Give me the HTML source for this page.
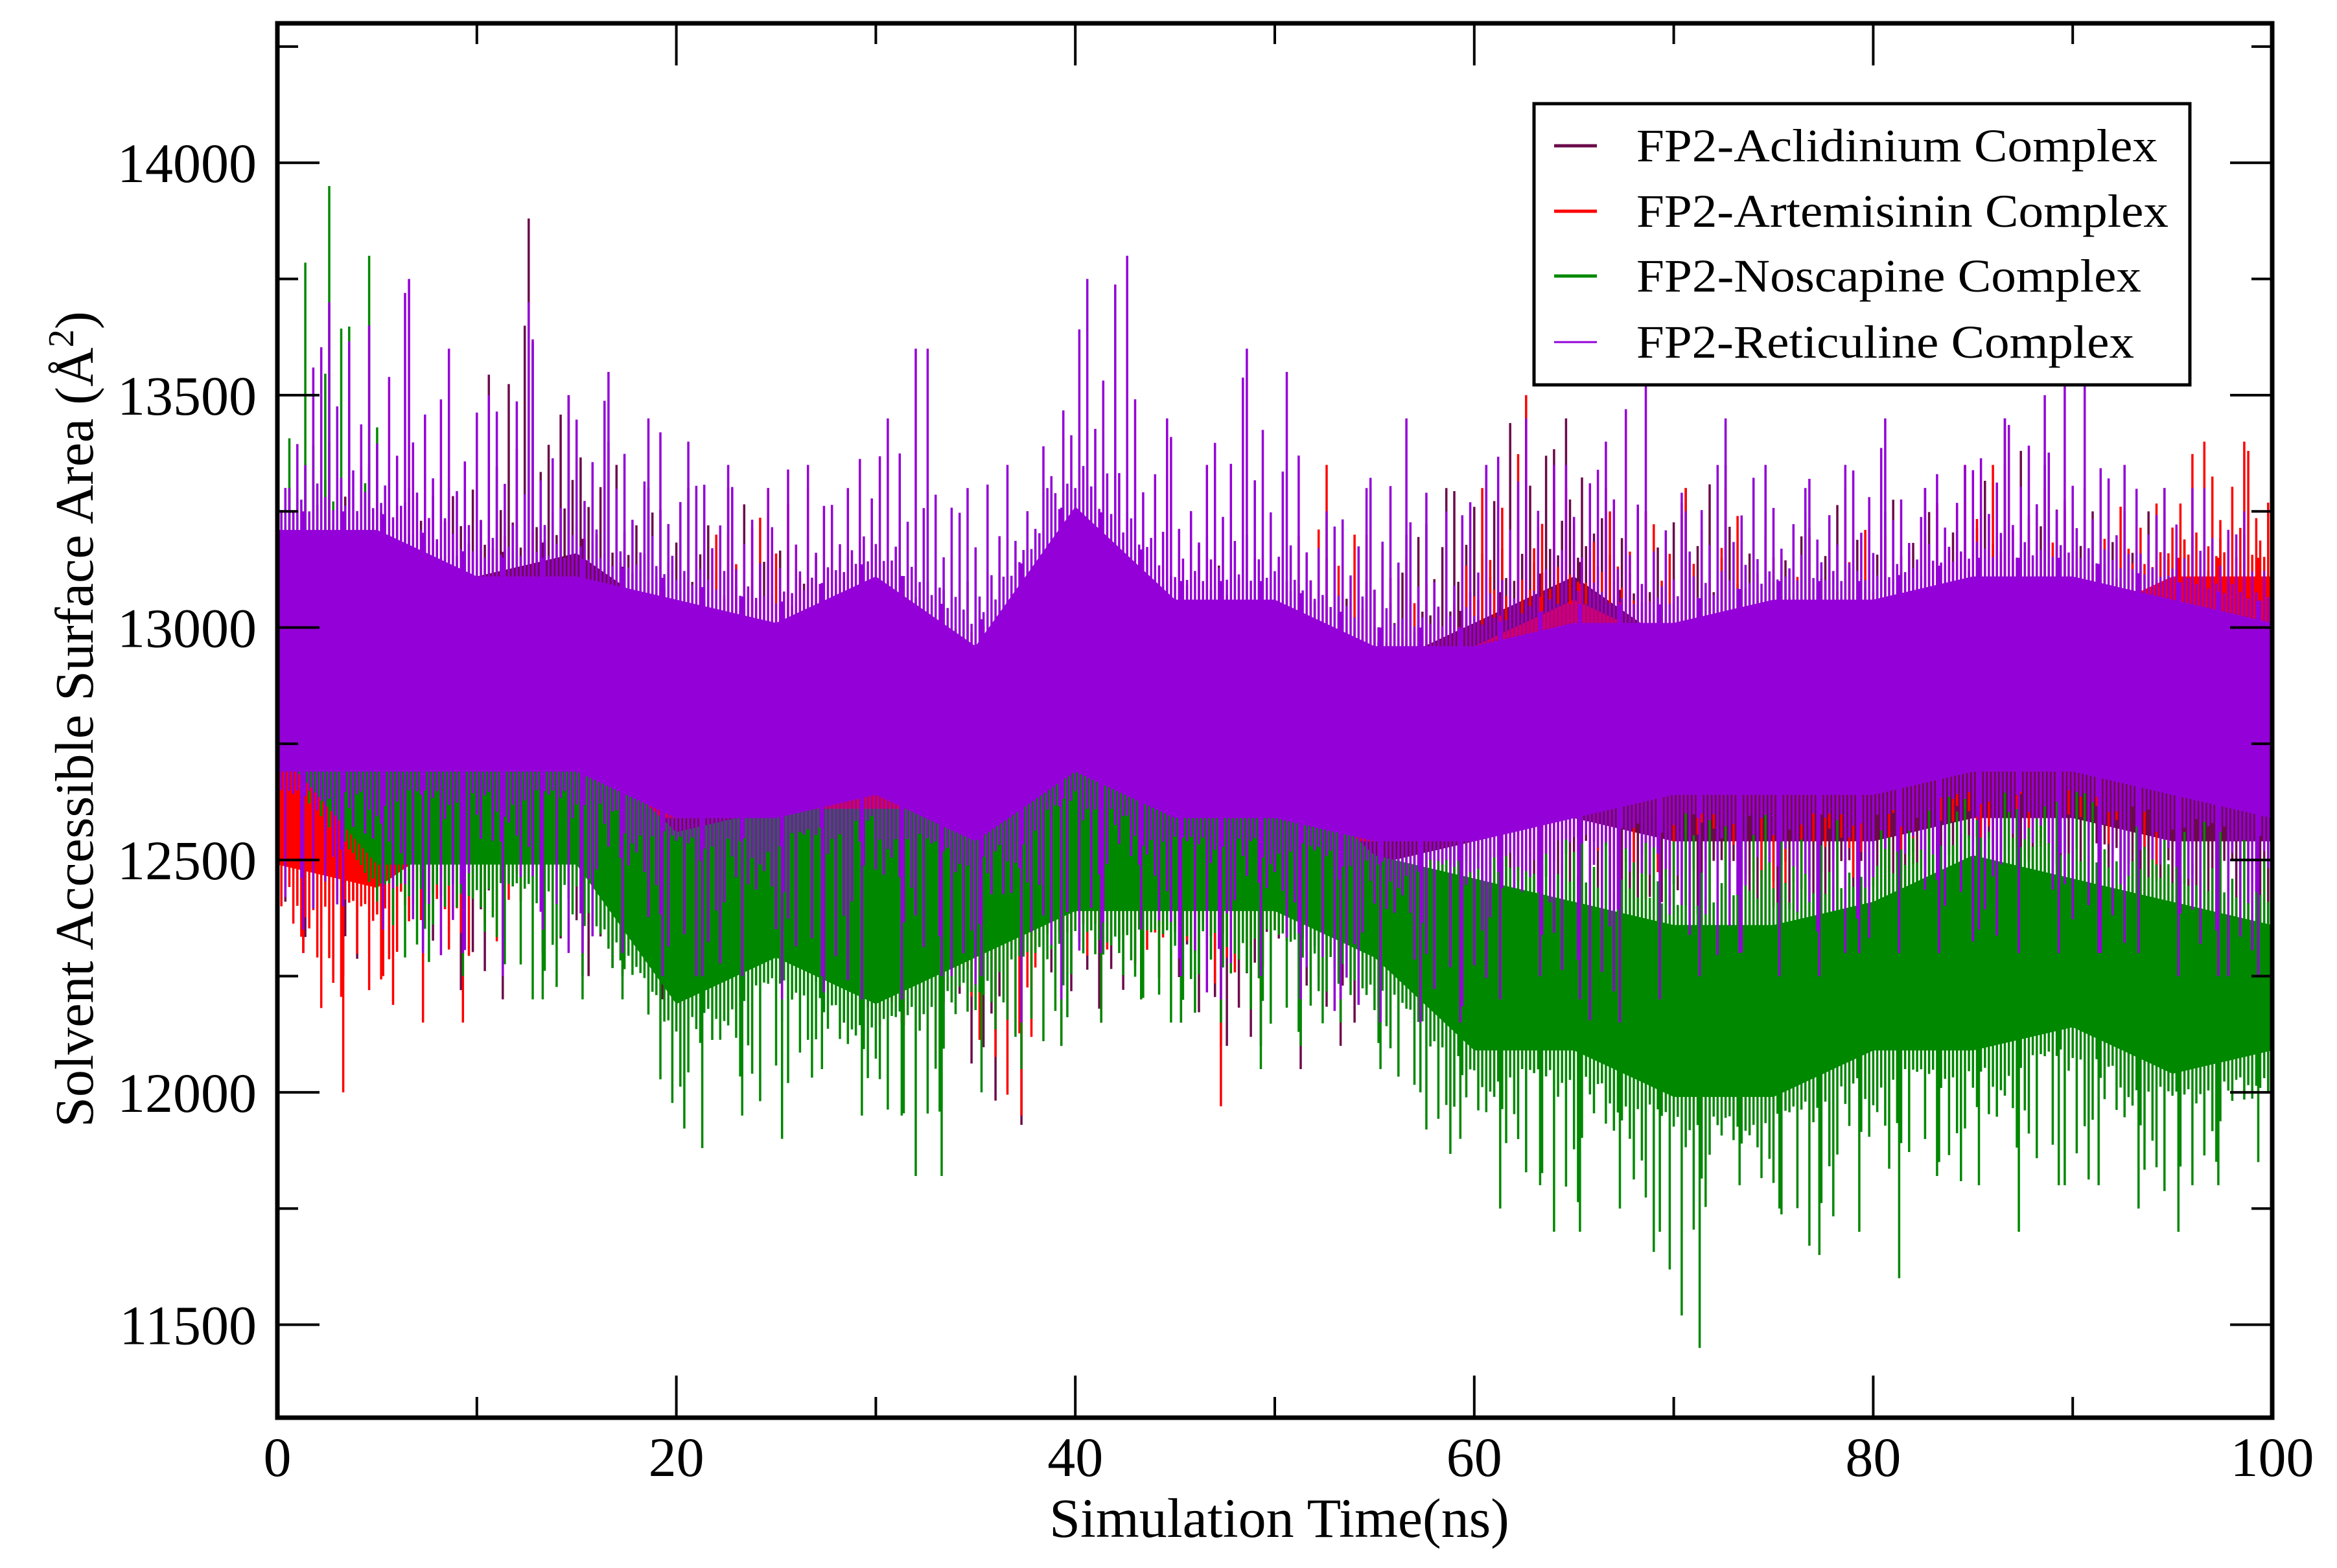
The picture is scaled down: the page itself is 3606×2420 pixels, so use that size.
<!DOCTYPE html>
<html><head><meta charset="utf-8"><style>
html,body{margin:0;padding:0;background:#fff;}
svg{display:block;}
text{font-family:"Liberation Serif",serif;fill:#000;}
</style></head><body>
<svg id="chart" width="3606" height="2420" viewBox="0 0 3606 2420" xmlns="http://www.w3.org/2000/svg">
<defs><clipPath id="pc"><rect x="428" y="36" width="3078" height="2152"/></clipPath></defs>
<rect x="0" y="0" width="3606" height="2420" fill="#fff"/>
<g id="series" clip-path="url(#pc)"></g>
<g id="axes"></g>
<text x="1974" y="2372" font-size="86" text-anchor="middle">Simulation Time(ns)</text>
<text transform="translate(143,1110) rotate(-90)" font-size="84" text-anchor="middle">Solvent Accessible Surface Area (Å<tspan dy="-30" font-size="56">2</tspan><tspan dy="30">)</tspan></text>
<g id="legend"></g>
</svg>
<script>
const tKnots5 = [0,5,10,15,20,25,30,35,40,45,50,55,60,65,70,75,80,85,90,95,100];
const seriesNames = ["FP2-Aclidinium Complex","FP2-Artemisinin Complex","FP2-Noscapine Complex","FP2-Reticuline Complex"];
const seriesColors = ["#6b0a4a","#ff0000","#008800","#9400d8"];
const xTicks = [0,20,40,60,80,100];
const yTicks = [11500,12000,12500,13000,13500,14000];

// Aclidinium
const aclPeaks = [13300,13400,13350,13300,13300,13400,13880,13500,13400,13300,13300,13300,13250,13200,13150,13050,13100,13100,13050,13050,13300,13250,13100,13200,13200,13100,13150,13100,13200,13300,13350,13450,13450,13300,13250,13300,13350,13250,13250,13300,13250,13300,13350,13450,13350,13300,13250,13250,13250,13200,13150];
const aclDips = [12300,12250,12250,12300,12250,12200,12300,12250,12250,12200,12200,12200,12150,12200,12150,12150,12100,12150,11930,12100,12150,12200,12150,12100,12100,12050,12100,12150,12150,12150,12150,12200,12100,12050,12150,12200,12200,12150,12150,12100,12200,12200,12150,12150,12200,12200,12150,12200,12200,12200,12250];
const aclHi = [13150,13150,13150,13200,13050,13000,12950,12900,13050,13000,12950,12950,13050,13150,13000,13000,13000,13050,13050,13000,13000];
const aclLo = [12600,12600,12600,12650,12500,12500,12450,12400,12500,12450,12450,12450,12500,12550,12500,12500,12500,12550,12550,12500,12500];
// Artemisinin
const artPeaks = [13000,12900,12950,12900,12900,13200,13300,13150,13100,13100,13100,13200,13300,13300,13100,13100,13000,12950,13050,13000,13100,13050,13000,13150,13050,13050,13350,13200,13150,13100,13250,13500,13300,13250,13250,13300,13300,13200,13200,13250,13200,13200,13350,13350,13300,13300,13250,13300,13400,13400,13350];
const artDips = [12300,12000,12250,12150,12150,12250,12400,12350,12400,12400,12400,12400,12450,12350,12200,12150,12100,12200,11950,12100,12150,12300,12250,11970,12200,12300,12350,12300,12350,12300,12350,12450,12500,12450,12400,12450,12450,12400,12400,12350,12400,12450,12450,12450,12500,12450,12450,12450,12500,12550,12500];
const artHi = [12850,12800,12900,12950,12950,13000,12850,12800,12850,12850,12900,12950,13000,13100,13000,13000,13000,13050,13050,13150,13150];
const artLo = [12450,12400,12550,12550,12550,12550,12400,12350,12450,12450,12500,12500,12600,12650,12600,12600,12600,12650,12650,12700,12700];
// Noscapine
const nosPeaks = [13400,13950,13800,13200,13100,13000,13050,12950,12950,12900,12850,12800,12900,12800,12850,12950,12850,12850,13000,13100,13150,13000,13050,13050,13100,12950,12850,12800,12750,12750,12700,12650,12700,12700,12650,12600,12700,12650,12600,12600,12700,12750,12800,12750,12800,12750,12700,12650,12600,12650,12500];
const nosDips = [12600,12750,12500,12300,12250,12300,12200,12200,12200,12250,11880,11950,11900,12050,11950,11950,11820,12000,12050,12100,12150,12200,12150,12150,12050,12100,12150,12050,12000,11900,11750,11800,11700,11750,11700,11450,11800,11750,11650,11700,11600,11850,11800,11700,11800,11800,11750,11700,11800,11850,11900];
const nosHi = [13200,12850,12800,12800,12600,12650,12650,12650,12800,12750,12750,12550,12500,12450,12400,12400,12450,12550,12500,12450,12400];
const nosLo = [12700,12450,12450,12450,12150,12250,12150,12250,12350,12350,12350,12250,12050,12050,11950,11950,12050,12050,12100,12000,12050];
// Reticuline
const retPeaks = [13300,13700,13650,13750,13600,13500,13700,13500,13550,13450,13400,13350,13300,13350,13300,13450,13600,13300,13350,13300,13750,13800,13450,13350,13600,13550,13250,13300,13450,13250,13350,13450,13350,13400,13550,13250,13450,13350,13300,13350,13450,13300,13350,13450,13500,13550,13350,13300,13300,13250,13100];
const retDips = [12350,12400,12350,12300,12300,12250,12350,12300,12300,12250,12250,12250,12200,12250,12200,12200,12250,12250,12150,12200,12300,12350,12250,12200,12250,12200,12200,12150,12150,12150,12200,12250,12200,12150,12200,12250,12300,12250,12250,12300,12300,12300,12350,12300,12300,12300,12300,12250,12250,12250,12300];
const retHi = [13250,13250,13150,13150,13100,13050,13150,13000,13300,13100,13100,13000,13000,13050,13050,13100,13100,13150,13150,13100,13050];
const retLo = [12650,12650,12650,12650,12550,12550,12600,12500,12650,12550,12550,12500,12500,12550,12600,12600,12600,12650,12650,12600,12550];

const X0=428, X1=3506, Y0=2188, Y1=36, XMIN=0, XMAX=100, YMIN=11300, YMAX=14300;
function sx(t){return X0+(t-XMIN)/(XMAX-XMIN)*(X1-X0);}
function sy(v){return Y0-(v-YMIN)/(YMAX-YMIN)*(Y0-Y1);}
const NS="http://www.w3.org/2000/svg";
function mk(tag,attrs,parent){const e=document.createElementNS(NS,tag);for(const k in attrs)e.setAttribute(k,attrs[k]);parent.appendChild(e);return e;}
function interp(arr,t){const i=Math.min(Math.floor(t/5),arr.length-2);const f=(t-tKnots5[i])/5;return arr[i]*(1-f)+arr[i+1]*f;}
function interp2(arr,t){const i=Math.min(Math.floor(t/2),arr.length-2);const f=(t-i*2)/2;return arr[i]*(1-f)+arr[i+1]*f;}
// fixed rendering texture (visual stroke-length pattern, not data)
const tex=[0.9,0.3,0.6,0.1,0.75,0.45,0.2,0.95,0.5,0.05,0.7,0.35,0.85,0.15,0.6,0.25,0.4,0.8,0.1,0.55,0.3,1.0,0.2,0.65,0.45,0.12,0.78,0.33,0.58,0.02,0.88,0.4];

const sg=document.getElementById('series');
const all=[[aclPeaks,aclDips,aclHi,aclLo],[artPeaks,artDips,artHi,artLo],[nosPeaks,nosDips,nosHi,nosLo],[retPeaks,retDips,retHi,retLo]];
all.forEach((s,k)=>{
  const [pk,dp,hi,lo]=s; const col=seriesColors[k];
  const g=mk('g',{},sg);
  
  
  let up=[],dn=[];
  for(let t=0;t<=100;t+=0.5){
    up.push(sx(t).toFixed(1)+','+sy(interp(hi,t)-40).toFixed(1));
    dn.unshift(sx(t).toFixed(1)+','+sy(interp(lo,t)+40).toFixed(1));
  }
  const band=mk('polygon',{points:up.concat(dn).join(' '),fill:col},g);
  
  
  let d='';
  let n=0;
  for(let t=0;t<=100.001;t+=0.2){
    const a=interp(hi,t), b=interp(lo,t), p=interp2(pk,t), q=interp2(dp,t);
    const fu=Math.pow(tex[(n+k*7)%tex.length],2.2), fd=Math.pow(tex[(n*3+k*5+11)%tex.length],2.2);
    const top=a+(p-a)*fu, bot=b-(b-q)*fd;
    d+='M'+sx(t).toFixed(1)+' '+sy(bot).toFixed(1)+'V'+sy(top).toFixed(1);
    n++;
  }
  for(let i=0;i<pk.length;i++){
    d+='M'+sx(i*2+0.6).toFixed(1)+' '+sy(interp(lo,Math.min(i*2+0.6,100))).toFixed(1)+'V'+sy(pk[i]).toFixed(1);
    d+='M'+sx(i*2+1.3).toFixed(1)+' '+sy(dp[i]).toFixed(1)+'V'+sy(interp(hi,Math.min(i*2+1.3,100))).toFixed(1);
  }
  const sp=mk('path',{d:d,stroke:col,'stroke-width':3.5,fill:'none'},g);
  
  
});

const ax=document.getElementById('axes');
const fr=mk('rect',{x:X0,y:Y1,width:X1-X0,height:Y0-Y1,fill:'none',stroke:'#000','stroke-width':7},ax);


let td='';
for(let t=0;t<=100;t+=10){const L=(t%20===0)?65:32;const x=sx(t);td+='M'+x+' '+Y0+'V'+(Y0-L)+'M'+x+' '+Y1+'V'+(Y1+L);}
for(let v=11500;v<=14250;v+=250){const L=(v%500===0)?65:32;const y=sy(v);td+='M'+X0+' '+y+'H'+(X0+L)+'M'+X1+' '+y+'H'+(X1-L);}
const tp=mk('path',{d:td,stroke:'#000','stroke-width':4,fill:'none'},ax);


xTicks.forEach(t=>{const e=mk('text',{x:sx(t),y:2278,'font-size':86,'text-anchor':'middle'},ax);e.textContent=t;
  
  });
yTicks.forEach(v=>{const e=mk('text',{x:396,y:sy(v)+30,'font-size':86,'text-anchor':'end'},ax);e.textContent=v;
  
  });

const lg=document.getElementById('legend');
const lb=mk('rect',{x:2367,y:160,width:1012,height:434,fill:'#fff',stroke:'#000','stroke-width':5},lg);


const rowsY=[225,326,426,528], widths=[804,821,779,768];
seriesNames.forEach((n,i)=>{
  const g=mk('g',{},lg);
  
  
  mk('line',{x1:2398,x2:2464,y1:rowsY[i],y2:rowsY[i],stroke:seriesColors[i],'stroke-width':i===3?3:5},g);
  const e=mk('text',{x:2525,y:rowsY[i]+24,'font-size':72,textLength:widths[i],lengthAdjust:'spacingAndGlyphs'},g);
  e.textContent=n;
});
</script>
</body></html>
